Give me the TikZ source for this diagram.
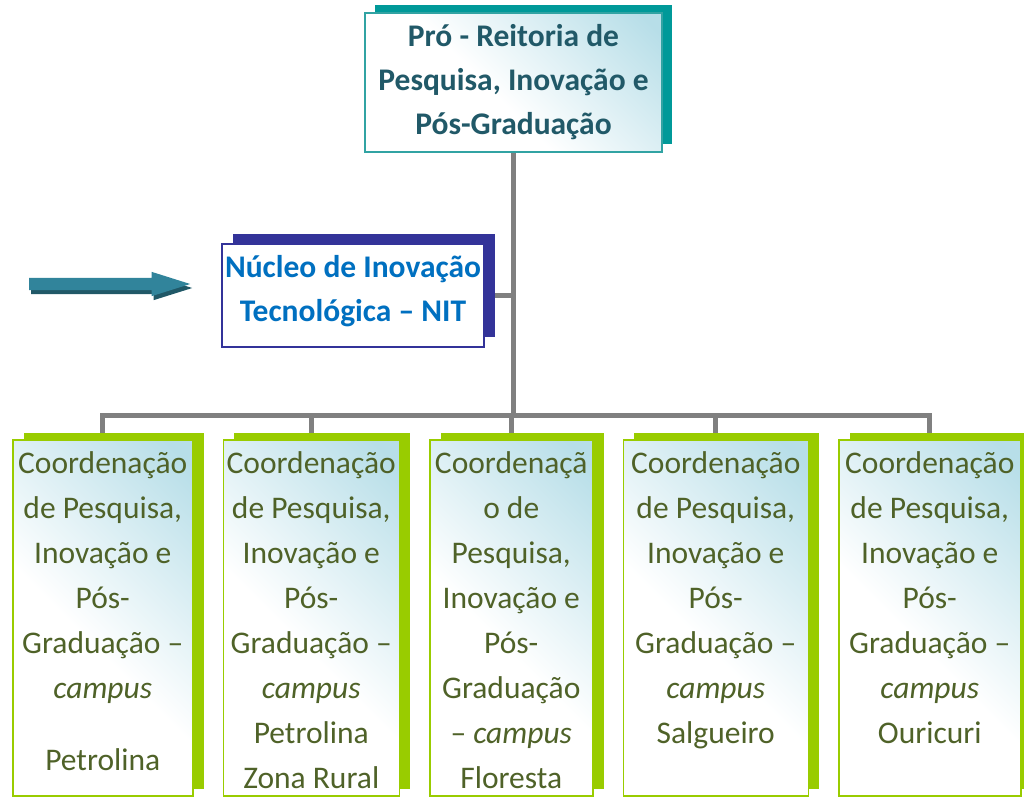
\documentclass[tikz,border=0pt]{standalone}
\usepackage{fontspec}
\setmainfont{Carlito}
\usepackage{tikz}
\usetikzlibrary{positioning, shadows, shapes.arrows, backgrounds}

\definecolor{tealshade}{HTML}{009999}
\definecolor{tealline}{HTML}{31A3A3}
\definecolor{tealtext}{HTML}{215968}
\definecolor{paleblue}{HTML}{B7DEE8}
\definecolor{nitshade}{HTML}{333399}
\definecolor{nittext}{HTML}{0070C0}
\definecolor{limeshade}{HTML}{99CC00}
\definecolor{olivetext}{HTML}{4F6228}
\definecolor{linkgray}{HTML}{808080}
\definecolor{arrowdark}{HTML}{31849B}
\definecolor{arrowlight}{HTML}{4BACC6}
\definecolor{arrowshade}{HTML}{205867}

\pgfdeclareverticalshading{softfade}{100bp}{color(0bp)=(paleblue); color(18bp)=(paleblue); color(55bp)=(white); color(100bp)=(white)}

\begin{document}
\begin{tikzpicture}[x=1pt, y=-1pt, node distance=29pt, every node/.style={font=\fontsize{31.5}{45}\selectfont}]
\useasboundingbox (0,0) rectangle (1024,796);

% Styles
\tikzstyle{box} = [draw, rectangle, inner sep=0pt, align=flush center, shade, shading=softfade, shading angle=135]
\tikzstyle{topbox} = [box, draw=tealline, line width=1.5pt, text=tealtext, text width=297pt, minimum height=139pt, font=\bfseries\fontsize{31.5}{44}\selectfont, drop shadow={shadow xshift=10pt, shadow yshift=8pt, fill=tealshade, opacity=1}]
\tikzstyle{nitbox} = [draw=nitshade, fill=white, rectangle, inner ysep=0pt, inner xsep=-6pt, align=flush center, line width=1.5pt, text=nittext, text width=274pt, text height=33pt, text depth=70pt, font=\bfseries\fontsize{31.5}{44}\selectfont, drop shadow={shadow xshift=11pt, shadow yshift=10pt, fill=nitshade, opacity=1}]
\tikzstyle{cbox} = [box, draw=limeshade, line width=1.5pt, text=olivetext, text height=34pt, text depth=322pt, drop shadow={shadow xshift=11pt, shadow yshift=7pt, fill=limeshade, opacity=1}]
\tikzstyle{pointer} = [single arrow, draw=none, inner sep=6pt, minimum height=161pt, single arrow head extend=6pt, single arrow tip angle=35, left color=arrowdark, middle color=arrowlight, right color=arrowdark, drop shadow={shadow xshift=2pt, shadow yshift=-4pt, fill=arrowshade, opacity=1}]
\tikzstyle{link} = [draw=linkgray, line width=5pt]

% Nodes
\node[topbox] (prr) at (513.5,82.5) {Pró - Reitoria de\\Pesquisa, Inovação e\\Pós-Graduação};
\node[nitbox] (nit) at (353,295.5) {Núcleo de Inovação\\Tecnológica – NIT};
\node[pointer, anchor=tail] (arrow) at (29,284) {};

\node[cbox, anchor=north west, text width=180pt] (c1) at (12,439) {Coordenação\\de Pesquisa,\\Inovação e\\Pós-\\Graduação –\\\textit{campus}\\[27pt]Petrolina};
\node[cbox, text width=176pt, right=of c1] (c2) {Coordenação\\de Pesquisa,\\Inovação e\\Pós-\\Graduação –\\\textit{campus}\\Petrolina\\Zona Rural};
\node[cbox, text width=163pt, right=of c2] (c3) {Coordenaçã\\o de\\Pesquisa,\\Inovação e\\Pós-\\Graduação\\– \textit{campus}\\Floresta};
\node[cbox, text width=185pt, right=of c3] (c4) {Coordenação\\de Pesquisa,\\Inovação e\\Pós-\\Graduação –\\\textit{campus}\\Salgueiro};
\node[cbox, text width=182pt, right=of c4] (c5) {Coordenação\\de Pesquisa,\\Inovação e\\Pós-\\Graduação –\\\textit{campus}\\Ouricuri};

% Arrows
\begin{scope}[on background layer]
\coordinate (hub) at (513.5,415);
\draw[link] (prr.south) -- (hub);
\draw[link] (nit.east) -- (nit.east -| hub);
\draw[link] (c1.north) |- (c5.north |- hub) -- (c5.north);
\foreach \n in {c2,c3,c4} \draw[link] (\n.north) -- (\n.north |- hub);
\end{scope}

\end{tikzpicture}
\end{document}
